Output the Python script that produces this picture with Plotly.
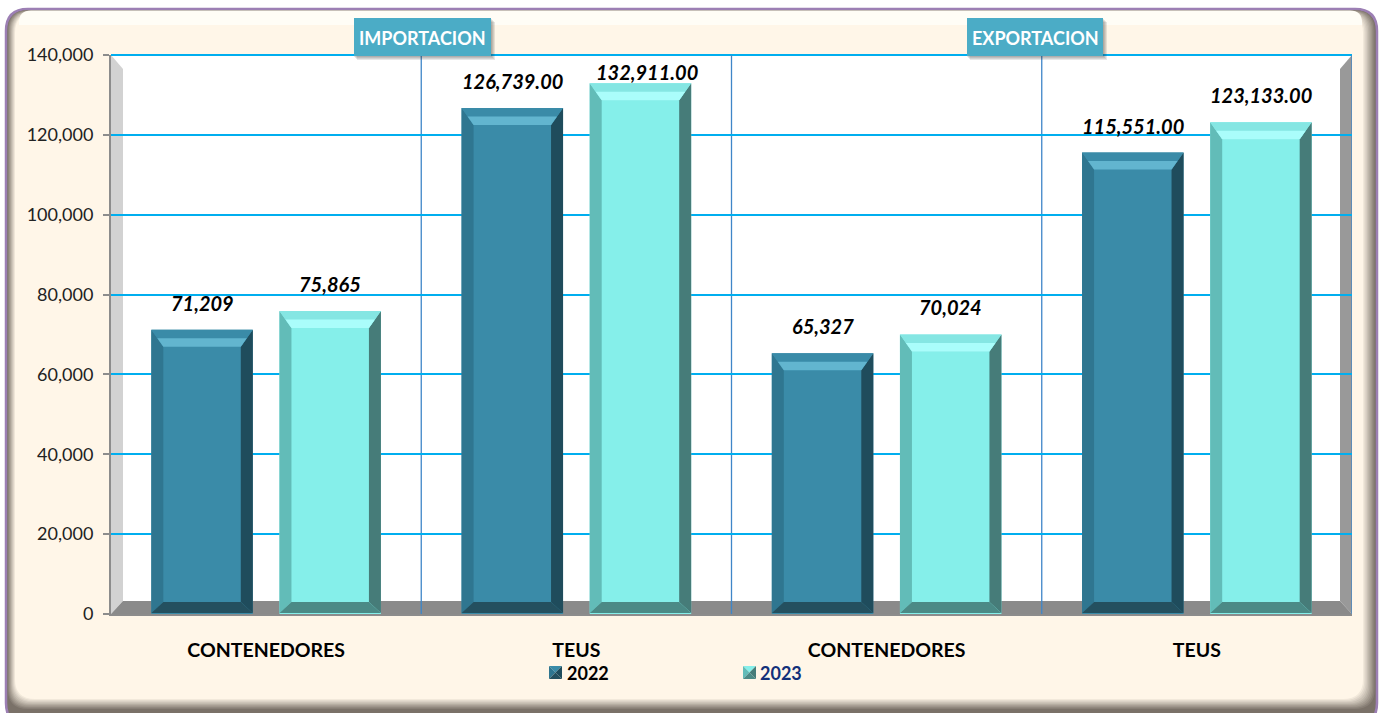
import plotly.graph_objects as go

categories = ["CONTENEDORES", "TEUS", "CONTENEDORES", "TEUS"]
values_2022 = [71209, 126739, 65327, 115551]
values_2023 = [75865, 132911, 70024, 123133]
labels_2022 = ["71,209", "126,739.00", "65,327", "115,551.00"]
labels_2023 = ["75,865", "132,911.00", "70,024", "123,133.00"]
y_ticks = [0, 20000, 40000, 60000, 80000, 100000, 120000, 140000]

W, H = 1383, 713
L, R, T, B = 111, 1352, 55, 614
FONT = "Lato"
def X(p): return p / W
def Y(p): return 1 - p / H

BARGAP, GROUPGAP = 0.174, 0.208
SLOT = (1 - BARGAP) / 2
BW = SLOT * (1 - GROUPGAP)
DX = 4 / (R - L)        # data units per pixel, x
DY = 140000 / (B - T)   # data units per pixel, y

shapes = []
def rrect(x0, y0, x1, y1, r, fill, line=None, lw=0):
    path = (f"M {X(x0+r)} {Y(y0)} L {X(x1-r)} {Y(y0)} Q {X(x1)} {Y(y0)} {X(x1)} {Y(y0+r)} "
            f"L {X(x1)} {Y(y1-r)} Q {X(x1)} {Y(y1)} {X(x1-r)} {Y(y1)} L {X(x0+r)} {Y(y1)} "
            f"Q {X(x0)} {Y(y1)} {X(x0)} {Y(y1-r)} L {X(x0)} {Y(y0+r)} Q {X(x0)} {Y(y0)} {X(x0+r)} {Y(y0)} Z")
    shapes.append(dict(type="path", path=path, xref="paper", yref="paper", layer="below",
                       fillcolor=fill, line=dict(color=line or fill, width=lw)))
def ppoly(pts, fill, layer="below"):
    path = "M " + " L ".join(f"{X(a)} {Y(b)}" for a, b in pts) + " Z"
    shapes.append(dict(type="path", path=path, xref="paper", yref="paper", layer=layer,
                       fillcolor=fill, line=dict(width=0)))

def lerp(c1, c2, t):
    return "rgb(" + ",".join(str(round(a + (b - a) * t)) for a, b in zip(c1, c2)) + ")"

# card frame with soft bevel
dark, cream = (122, 113, 104), (255, 246, 232)
rrect(6, 9, 1377, 725, 22, "rgb(122,113,104)", "#9c7fb4", 2.5)
for i in range(1, 11):
    t = i / 10
    rrect(7 + i * 0.8, 10 + i * 0.3, 1376 - i * 1.3, 710 - i * 1.1, 20, lerp(dark, cream, t))
rrect(19, 10.5, 1362, 40, 12, "#fffdf6")
ppoly([(19, 25), (1362, 25), (1362, 60), (19, 60)], "#fff6e8")

# plot floor and walls
ppoly([(L, T), (R, T), (R, B), (L, B)], "#ffffff")
ppoly([(L, T), (123, 69), (123, 601), (L, B)], "#d2d2d2")
ppoly([(R, T), (1340, 69), (1340, 601), (R, B)], "#999999")
ppoly([(L, B), (123, 601), (1340, 601), (R, B)], "#8a8a8a")
shapes.append(dict(type="line", xref="paper", yref="paper", x0=X(L), x1=X(R), y0=Y(T), y1=Y(T),
                   layer="below", line=dict(color="#00aeef", width=2)))

# category dividers
for d in [0.5, 1.5, 2.5, 3.5]:
    shapes.append(dict(type="line", xref="x", yref="y", x0=d, x1=d, y0=0, y1=140000,
                       layer="below", line=dict(color="#3f86c8", width=1.3)))

def dpoly(pts, fill):
    path = "M " + " L ".join(f"{a} {b}" for a, b in pts) + " Z"
    shapes.append(dict(type="path", path=path, xref="x", yref="y", layer="above",
                       fillcolor=fill, line=dict(width=0)))

def bevel(j, offset, v, c):
    cx = j + offset * SLOT
    x0, x1 = cx - BW / 2, cx + BW / 2
    sx, st, sb = 12 * DX, 17 * DY, 11 * DY
    yb = 1 * DY
    dpoly([(x0, yb), (x0 + sx, yb + sb), (x0 + sx, v - st), (x0, v)], c["left"])
    dpoly([(x1, yb), (x1 - sx, yb + sb), (x1 - sx, v - st), (x1, v)], c["right"])
    dpoly([(x0, yb), (x1, yb), (x1 - sx, yb + sb), (x0 + sx, yb + sb)], c["bottom"])
    dpoly([(x0, v), (x1, v), (x1 - sx, v - st), (x0 + sx, v - st)], c["top"])
    k = 0.5
    dpoly([(x0 + sx * k, v - st * k), (x1 - sx * k, v - st * k),
           (x1 - sx, v - st), (x0 + sx, v - st)], c["glow"])

style_2022 = dict(face="#3a8ba8", left="#2f7690", right="#1f4c5c", bottom="#24505f",
                  top="#3a8ba8", glow="#62b5cf", text="#000000")
style_2023 = dict(face="#85efea", left="#62bcb8", right="#467c79", bottom="#4b8a86",
                  top="#85e6e3", glow="#aafdfb", text="#12307a")
for j in range(4):
    bevel(j, -0.5, values_2022[j], style_2022)
    bevel(j, 0.5, values_2023[j], style_2023)

fig = go.Figure()
xs = list(range(4))
fig.add_bar(x=xs, y=values_2022, name="2022", marker=dict(color=style_2022["face"], line=dict(width=0)))
fig.add_bar(x=xs, y=values_2023, name="2023", marker=dict(color=style_2023["face"], line=dict(width=0)))

ann = []
nudge = {(1, 1): (7, 11)}
for i, (vals, labs) in enumerate([(values_2022, labels_2022), (values_2023, labels_2023)]):
    for j in range(4):
        dx, dy = nudge.get((i, j), (0, 27))
        ann.append(dict(x=j + (i - 0.5) * SLOT, y=vals[j], xref="x", yref="y", text=f"<b><i>{labs[j]}</i></b>",
                        showarrow=False, xanchor="center", yanchor="middle", xshift=dx, yshift=dy,
                        font=dict(family=FONT, size=20, color="#000000")))

for x0, x1, txt in [(354, 491, "IMPORTACION"), (967, 1103, "EXPORTACION")]:
    for s in range(4, 0, -1):
        shapes.append(dict(type="rect", xref="paper", yref="paper", layer="above",
                           x0=X(x0 + s - 1), x1=X(x1 + s), y0=Y(18 + s), y1=Y(56 + s),
                           fillcolor="rgba(60,60,60,0.12)", line=dict(width=0)))
    shapes.append(dict(type="rect", xref="paper", yref="paper", layer="above",
                       x0=X(x0), x1=X(x1), y0=Y(18), y1=Y(56),
                       fillcolor="#4bacc6", line=dict(width=0)))
    ann.append(dict(x=X((x0 + x1) / 2), y=Y(37.5), xref="paper", yref="paper", text=f"<b>{txt}</b>",
                    showarrow=False, xanchor="center", yanchor="middle",
                    font=dict(family=FONT, size=18, color="#ffffff")))

# legend key: bevelled swatch plus year
for name, c, sx in [("2022", style_2022, 549), ("2023", style_2023, 743)]:
    a, b, m, u, v, n = sx, sx + 13, sx + 6.5, 666, 679, 672.5
    ppoly([(a, u), (b, u), (m, n)], c["face"], "above")
    ppoly([(a, u), (m, n), (a, v)], c["left"], "above")
    ppoly([(b, u), (m, n), (b, v)], c["right"], "above")
    ppoly([(a, v), (m, n), (b, v)], c["bottom"], "above")
    ann.append(dict(x=X(sx + 15.5), y=Y(673), xref="paper", yref="paper", text=f"<b>{name}</b>",
                    showarrow=False, xanchor="left", yanchor="middle", xshift=0,
                    font=dict(family=FONT, size=18, color=c["text"])))

fig.update_layout(
    width=W, height=H, autosize=False,
    margin=dict(l=0, r=0, t=0, b=0, pad=0, autoexpand=False),
    paper_bgcolor="#ffffff", plot_bgcolor="rgba(0,0,0,0)", showlegend=False,
    barmode="group", bargap=BARGAP, bargroupgap=GROUPGAP,
    shapes=shapes, annotations=ann,
    font=dict(family=FONT, color="#000000"),
    xaxis=dict(domain=[X(L), X(R)], range=[-0.5, 3.5], tickmode="array", tickvals=xs, automargin=False,
               ticktext=[f"<b>{c}</b>" for c in categories], showgrid=False, zeroline=False,
               showline=True, linecolor="#8c8c8c", linewidth=2, ticks="", ticklabelstandoff=18,
               tickfont=dict(family=FONT, size=19.5, color="#000000"), fixedrange=True),
    yaxis=dict(domain=[Y(B), Y(T)], range=[0, 140000], tickmode="array", tickvals=y_ticks, automargin=False,
               tickformat=",d", showgrid=True, gridcolor="#00aeef", gridwidth=2, zeroline=False,
               showline=True, linecolor="#8c8c8c", linewidth=2, ticks="outside", ticklen=6,
               tickcolor="#8c8c8c", tickwidth=2, ticklabelstandoff=6,
               tickfont=dict(family=FONT, size=18, color="#222222"), fixedrange=True),
)
fig.write_html("out.html", config=dict(displayModeBar=False),
               post_script="document.body.style.margin='0';document.body.style.overflow='hidden';")
